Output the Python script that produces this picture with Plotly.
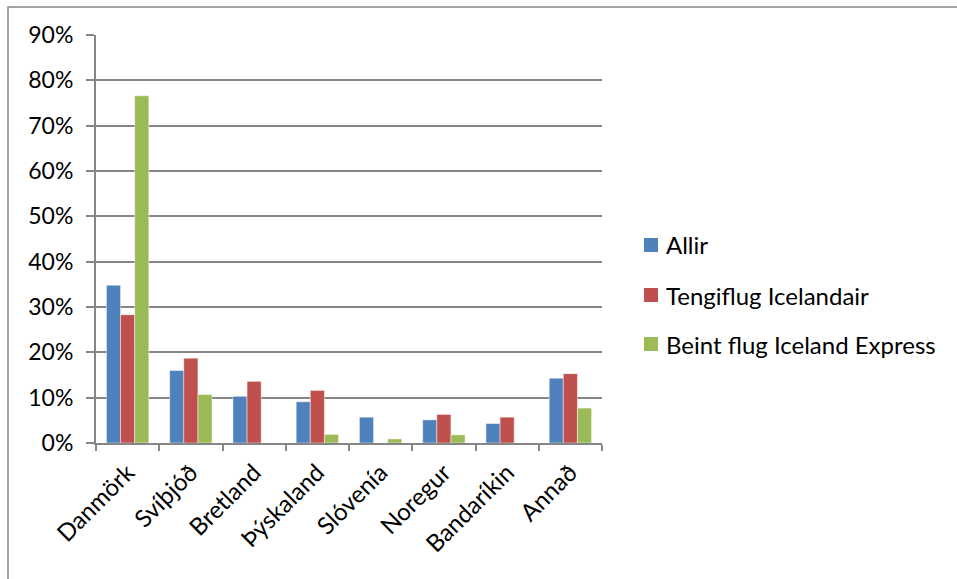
import plotly.graph_objects as go

categories = ["Danmörk", "Svíþjóð", "Bretland", "Þýskaland", "Slóvenía",
              "Noregur", "Bandaríkin", "Annað"]
allir = [34.8, 16.0, 10.3, 9.1, 5.7, 5.1, 4.3, 14.3]
tengiflug = [28.3, 18.7, 13.6, 11.6, 0.0, 6.3, 5.7, 15.3]
beint_flug = [76.6, 10.7, 0.0, 1.9, 0.9, 1.8, 0.0, 7.7]

series = [
    ("Allir", allir, "#4F81BD"),
    ("Tengiflug Icelandair", tengiflug, "#C0504D"),
    ("Beint flug Iceland Express", beint_flug, "#9BBB59"),
]

FONT = "Lato, 'Open Sans', sans-serif"
W, H = 957, 579
ML, MR, MT, MB = 96, 355, 35, 136
PW, PH = W - ML - MR, H - MT - MB


def px_to_paper(px, py):
    return (px - ML) / PW, 1 - (py - MT) / PH


fig = go.Figure()
for name, vals, color in series:
    fig.add_trace(go.Bar(
        x=categories, y=[v / 100 for v in vals], name=name,
        marker=dict(color=color, line=dict(color="rgba(255,255,255,0.45)", width=1)),
        showlegend=False,
    ))

# Legend drawn as colour squares with text labels beside them
shapes = []
annotations = []
legend_rows = [245, 295, 344]
for (name, _, color), cy in zip(series, legend_rows):
    x0, y0 = px_to_paper(644, cy + 7)
    x1, y1 = px_to_paper(658, cy - 7)
    shapes.append(dict(type="rect", xref="paper", yref="paper",
                       x0=x0, x1=x1, y0=y0, y1=y1,
                       line=dict(width=0), fillcolor=color))
    tx, ty = px_to_paper(664, cy)
    annotations.append(dict(xref="paper", yref="paper", x=tx, y=ty,
                            xanchor="left", yanchor="middle", showarrow=False,
                            text=name, font=dict(size=24, family=FONT)))

# Chart border
bx0, by1 = px_to_paper(8, 7)
shapes.append(dict(type="rect", xref="paper", yref="paper",
                   x0=bx0, x1=2.0, y0=-1.0, y1=by1,
                   line=dict(color="#868686", width=1.5),
                   fillcolor="rgba(0,0,0,0)", layer="below"))

fig.update_layout(
    width=W, height=H,
    margin=dict(l=ML, r=MR, t=MT, b=MB),
    paper_bgcolor="white", plot_bgcolor="white",
    barmode="group", bargap=0.33, bargroupgap=0,
    font=dict(family=FONT, size=23, color="black"),
    xaxis=dict(
        type="category", tickangle=-45, tickson="boundaries",
        ticks="outside", ticklen=6, tickcolor="#868686", tickwidth=2,
        showline=True, linecolor="#868686", linewidth=2,
        showgrid=False, tickfont=dict(size=24), ticklabelstandoff=4,
    ),
    yaxis=dict(
        range=[0, 0.9], dtick=0.1, tickformat=".0%",
        showgrid=True, gridcolor="#868686", gridwidth=2,
        ticks="outside", ticklen=8, tickcolor="#868686", tickwidth=2,
        showline=True, linecolor="#868686", linewidth=2,
        zeroline=False, tickfont=dict(size=23), ticklabelstandoff=8,
    ),
    showlegend=False,
    shapes=shapes,
    annotations=annotations,
)

fig.write_html("out.html")
